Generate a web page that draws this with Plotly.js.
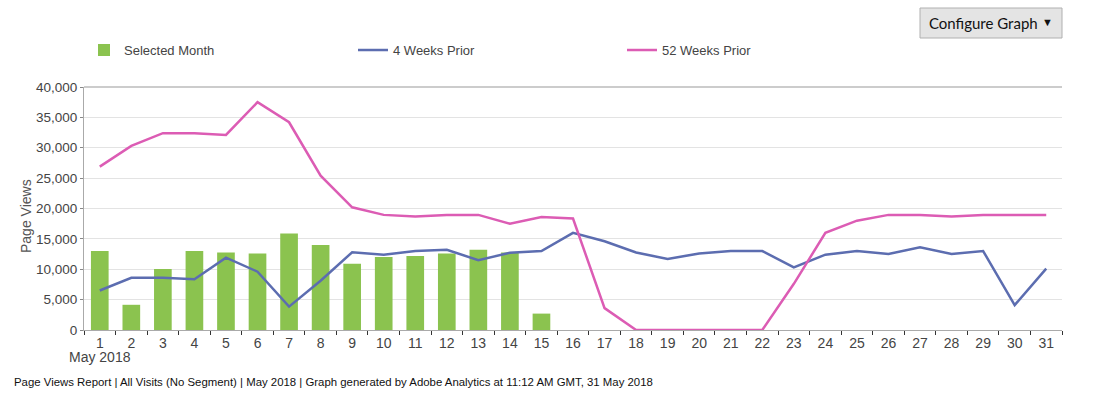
<!DOCTYPE html>
<html>
<head>
<meta charset="utf-8">
<script src="https://cdn.plot.ly/plotly-3.0.1.min.js"></script>
<style>
html,body{margin:0;padding:0;background:#fff;}
#chart{width:1109px;height:403px;}
</style>
</head>
<body>
<div id="chart"></div>
<script>
// Data
var days = ["1","2","3","4","5","6","7","8","9","10","11","12","13","14","15","16","17","18","19","20","21","22","23","24","25","26","27","28","29","30","31"];
var selectedMonth = [13000,4150,10050,13000,12750,12600,15900,14000,10900,12000,12200,12600,13200,12750,2700];
var weeks4Prior = [6500,8600,8600,8350,11900,9600,3850,8100,12800,12400,13000,13200,11500,12700,13000,16000,14600,12750,11700,12600,13000,13000,10300,12400,13000,12500,13600,12500,13000,4100,10100];
var weeks52Prior = [26900,30300,32400,32400,32100,37500,34200,25400,20200,18950,18700,18950,18950,17500,18600,18350,3600,0,0,0,0,0,7600,16000,18000,18950,18950,18700,18950,18950,18950];
var seriesNames = ["Selected Month","4 Weeks Prior","52 Weeks Prior"];
var yTitle = "Page Views";
var monthLabel = "May 2018";
var footerText = "Page Views Report | All Visits (No Segment) | May 2018 | Graph generated by Adobe Analytics at 11:12 AM GMT, 31 May 2018";
var buttonText = "Configure Graph";

var font = "Liberation Sans, Arial, sans-serif";

var traces = [
  {type:"bar", name:seriesNames[0], x:days.slice(0, selectedMonth.length), y:selectedMonth,
   marker:{color:"#8bc34f", line:{width:0}}, hoverinfo:"x+y"},
  {type:"scatter", mode:"lines", name:seriesNames[1], x:days, y:weeks4Prior,
   line:{color:"#5c6db0", width:2.5}},
  {type:"scatter", mode:"lines", name:seriesNames[2], x:days, y:weeks52Prior,
   line:{color:"#dc5cb4", width:2.5}}
];

var layout = {
  width:1109, height:403,
  margin:{l:84, r:47, t:87, b:73},
  paper_bgcolor:"#fff", plot_bgcolor:"#fff",
  font:{family:font, size:14, color:"#444"},
  bargap:0.44,
  showlegend:true,
  legend:{orientation:"h", x:0, xanchor:"left", y:1.152, yanchor:"middle",
          entrywidth:224, entrywidthmode:"pixels",
          font:{family:font, size:13, color:"#444"}, traceorder:"normal"},
  xaxis:{type:"category", range:[-0.5,30.5], fixedrange:true,
         showline:true, linecolor:"#aaa", linewidth:1,
         ticks:"outside", tickson:"boundaries", ticklen:4, tickcolor:"#333", tickwidth:1,
         showgrid:false, zeroline:false,
         tickfont:{family:font, size:14, color:"#444"}},
  yaxis:{range:[0,40000], dtick:5000, tickformat:",d", fixedrange:true,
         showline:true, linecolor:"#aaa", linewidth:1,
         ticks:"outside", ticklen:3, tickcolor:"#888",
         showgrid:true, gridcolor:"#e3e3e3", zeroline:false,
         tickfont:{family:font, size:13.5, color:"#444"}},
  shapes:[
    {type:"line", xref:"paper", yref:"paper", x0:0, x1:1, y0:1, y1:1, line:{color:"#bbb", width:1.5}},
    {type:"rect", xref:"paper", yref:"paper", x0:(920-84)/978, x1:(1062-84)/978,
     y0:(330-38)/243, y1:(330-8)/243, fillcolor:"#e4e4e4", line:{color:"#b0b0b0", width:1}}
  ],
  annotations:[
    {xref:"paper", yref:"paper", x:(26-84)/978, y:(330-216)/243, text:yTitle, textangle:-90, showarrow:false,
     xanchor:"center", yanchor:"middle", font:{family:font, size:14, color:"#555"}},
    {xref:"x", yref:"paper", x:0, y:(330-357)/243, text:monthLabel, showarrow:false,
     xanchor:"center", yanchor:"middle", font:{family:font, size:14, color:"#444"}},
    {xref:"paper", yref:"paper", x:(12-84)/978, y:(330-382)/243, text:footerText, showarrow:false,
     xanchor:"left", yanchor:"middle", font:{family:font, size:11.4, color:"#111"}},
    {xref:"paper", yref:"paper", x:(927-84)/978, y:(330-23)/243, text:buttonText, showarrow:false,
     xanchor:"left", yanchor:"middle", font:{family:"Lato, Open Sans, sans-serif", size:15, color:"#111"}},
    {xref:"paper", yref:"paper", x:(1047-84)/978, y:(330-22)/243, text:"▼", showarrow:false,
     xanchor:"center", yanchor:"middle", font:{family:font, size:11, color:"#111"}}
  ]
};

Plotly.newPlot("chart", traces, layout, {displayModeBar:false, staticPlot:true});
</script>
</body>
</html>
